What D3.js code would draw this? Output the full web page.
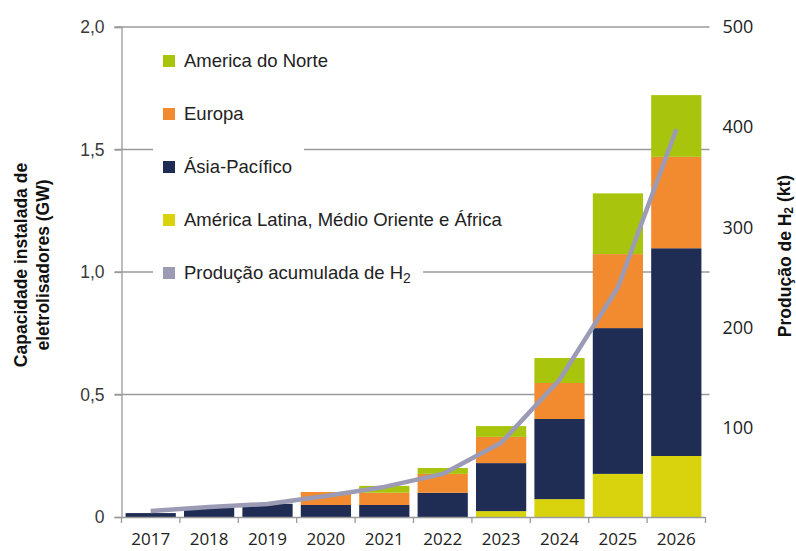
<!DOCTYPE html>
<html>
<head>
<meta charset="utf-8">
<title>Capacidade de eletrolisadores</title>
<script src="https://d3js.org/d3.v7.min.js"></script>
<style>
  body { margin: 0; background: #fff; }
  svg { display: block; }
</style>
</head>
<body>
<script>
// data
const years = ["2017", "2018", "2019", "2020", "2021", "2022", "2023", "2024", "2025", "2026"];
const latamMeaf = [0, 0, 0, 0, 0, 0, 0.024, 0.073, 0.176, 0.249];
const asiaPacific = [0.016, 0.038, 0.054, 0.049, 0.049, 0.099, 0.196, 0.327, 0.595, 0.848];
const europe = [0, 0, 0, 0.053, 0.05, 0.077, 0.107, 0.147, 0.302, 0.373];
const northAmerica = [0, 0, 0, 0, 0.028, 0.024, 0.044, 0.102, 0.248, 0.252];
const production = [17, 21, 24, 32, 41, 54, 85, 148, 240, 398]; // kt
const gwTicks = [0, 0.5, 1, 1.5, 2];
const ktTicks = [100, 200, 300, 400, 500];

const keys = ["latam", "asia", "europe", "na"];
const colors = { latam: "#d8d30c", asia: "#1f2d55", europe: "#f28b30", na: "#a8c40c" };
const lineColor = "#9b9bb6";

const legendItems = [
  { label: "America do Norte", color: colors.na },
  { label: "Europa", color: colors.europe },
  { label: "Ásia-Pacífico", color: colors.asia },
  { label: "América Latina, Médio Oriente e África", color: colors.latam },
  { label: "Produção acumulada de H", sub: "2", color: lineColor }
];

const rows = years.map((y, i) => ({
  year: y, latam: latamMeaf[i], asia: asiaPacific[i], europe: europe[i], na: northAmerica[i]
}));

const w = 796, h = 551;
const plotL = 121.5, plotR = 705.5, plotT = 27, plotB = 517;

const svg = d3.select("body").append("svg")
  .attr("width", w).attr("height", h)
  .style("font-family", "'Liberation Sans', Arial, sans-serif");

const x = d3.scaleBand().domain(years).range([plotL, plotR])
  .paddingInner(0.14).paddingOuter(0.07);
const y = d3.scaleLinear().domain([0, 2]).range([plotB, plotT]);
// right axis labels in the source sit a little off the GW grid
const y2 = d3.scaleLinear().domain([0, 500]).range([plotB + 11, plotT]);

// gridlines (with little ticks outside both ends)
svg.append("g").selectAll("line")
  .data(gwTicks.filter(d => d > 0))
  .join("line")
  .attr("x1", plotL - 7).attr("x2", plotR + 4)
  .attr("y1", d => y(d)).attr("y2", d => y(d))
  .attr("stroke", "#9a9a9a").attr("stroke-width", 1.3);

// bars
const stacked = d3.stack().keys(keys)(rows);
svg.append("g").selectAll("g")
  .data(stacked)
  .join("g")
  .attr("fill", d => colors[d.key])
  .selectAll("rect")
  .data(d => d)
  .join("rect")
  .attr("x", d => x(d.data.year))
  .attr("width", x.bandwidth())
  .attr("y", d => y(d[1]))
  .attr("height", d => y(d[0]) - y(d[1]));

// left axis
const yAxis = svg.append("g")
  .attr("transform", `translate(${plotL},0)`)
  .call(d3.axisLeft(y).tickValues(gwTicks).tickSize(7).tickPadding(10)
    .tickFormat(d => d === 0 ? "0" : d3.format(".1f")(d).replace(".", ",")));
yAxis.select(".domain").attr("stroke", "#9a9a9a").attr("stroke-width", 1.3);
yAxis.selectAll(".tick line").attr("stroke", "#9a9a9a").attr("stroke-width", 1.3);
yAxis.selectAll("text").attr("fill", "#3a3a3a")
  .style("font-size", "17.5px").style("font-family", "'Liberation Sans', Arial, sans-serif");

// bottom axis
const xAxis = svg.append("g")
  .attr("transform", `translate(0,${plotB})`)
  .call(d3.axisBottom(x).tickSize(0).tickPadding(16).tickSizeOuter(0));
xAxis.select(".domain").attr("stroke", "#9a9a9a").attr("stroke-width", 1.3);
xAxis.selectAll("text").attr("fill", "#222")
  .style("font-size", "17px").style("font-family", "'Open Sans', sans-serif");
const gap = (x.step() - x.bandwidth()) / 2;
const lastYear = years[years.length - 1];
xAxis.append("g").selectAll("line")
  .data(years.concat(["end"]))
  .join("line")
  .attr("x1", d => d === "end" ? x(lastYear) + x.bandwidth() + gap : x(d) - gap)
  .attr("x2", d => d === "end" ? x(lastYear) + x.bandwidth() + gap : x(d) - gap)
  .attr("y1", 0).attr("y2", 6)
  .attr("stroke", "#9a9a9a").attr("stroke-width", 1.3);

// right axis
const y2Axis = svg.append("g")
  .attr("transform", `translate(${plotR},0)`)
  .call(d3.axisRight(y2).tickValues(ktTicks).tickSize(0).tickPadding(17));
y2Axis.select(".domain").remove();
y2Axis.selectAll("text").attr("fill", "#222")
  .style("font-size", "18px").style("font-family", "'Open Sans', sans-serif");

// production line
const line = d3.line()
  .x((d, i) => x(years[i]) + x.bandwidth() / 2)
  .y(d => y2(d));
svg.append("path")
  .datum(production)
  .attr("d", line)
  .attr("fill", "none")
  .attr("stroke", lineColor)
  .attr("stroke-width", 4.5)
  .attr("stroke-linejoin", "round");

// legend
const legend = svg.append("g");
const li = legend.selectAll("g")
  .data(legendItems)
  .join("g")
  .attr("transform", (d, i) => `translate(163,${61 + i * 53})`);
const bg = li.append("rect").attr("fill", "#fff");
li.append("rect")
  .attr("x", 0).attr("y", -6).attr("width", 12).attr("height", 12)
  .attr("fill", d => d.color);
const lt = li.append("text")
  .attr("x", 21).attr("dy", "0.35em")
  .attr("fill", "#222")
  .style("font-size", "18.5px");
lt.append("tspan").text(d => d.label);
lt.filter(d => d.sub).append("tspan")
  .attr("dy", "0.25em").style("font-size", "14px").text(d => d.sub);
bg.each(function () {
  const t = d3.select(this.parentNode).select("text").node().getBBox();
  d3.select(this).attr("x", -10).attr("y", -19)
    .attr("width", t.x + t.width + 12 + 10).attr("height", 38);
});

// axis titles
const lt1 = svg.append("text")
  .attr("transform", "translate(27,265) rotate(-90)")
  .attr("text-anchor", "middle")
  .attr("fill", "#111")
  .style("font-size", "17.5px").style("font-weight", "bold");
lt1.append("tspan").attr("x", 0).attr("dy", 0).text("Capacidade instalada de");
lt1.append("tspan").attr("x", 0).attr("dy", 22).text("eletrolisadores (GW)");

const rt = svg.append("text")
  .attr("transform", "translate(791,256) rotate(-90)")
  .attr("text-anchor", "middle")
  .attr("fill", "#111")
  .style("font-size", "17.5px").style("font-weight", "bold");
rt.append("tspan").text("Produção de H");
rt.append("tspan").attr("dy", "0.2em").style("font-size", "12px").text("2");
rt.append("tspan").attr("dy", "-0.2em").text(" (kt)");
</script>
</body>
</html>
